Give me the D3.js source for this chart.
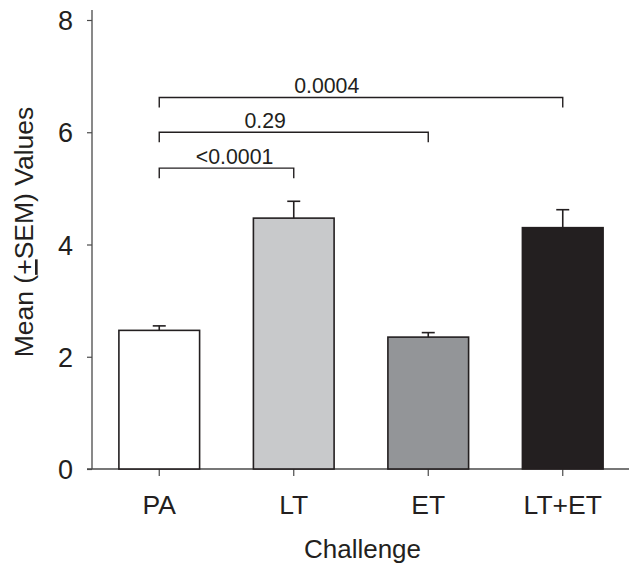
<!DOCTYPE html>
<html>
<head>
<meta charset="utf-8">
<script src="https://cdn.jsdelivr.net/npm/d3@7"></script>
<style>
  html, body { margin: 0; padding: 0; background: #fff; }
  svg { display: block; font-family: "Liberation Sans", Arial, Helvetica, sans-serif; }
</style>
</head>
<body>
<svg id="chart" width="629" height="565"></svg>
<script>
// Challenge groups, their means and the upper SEM bound
const categories = ["PA", "LT", "ET", "LT+ET"];
const means = [2.47, 4.47, 2.35, 4.30];
const sem = [0.08, 0.30, 0.08, 0.32];
const fills = ["#ffffff", "#c8c9cb", "#939598", "#231f20"];
const yTicks = [0, 2, 4, 6, 8];

// Pairwise comparisons against PA: [from, to, bracket level, p-value label]
const compFrom = ["PA", "PA", "PA"];
const compTo = ["LT", "ET", "LT+ET"];
const compLevel = [5.36, 6.0, 6.62];
const compLabel = ["<0.0001", "0.29", "0.0004"];

const svg = d3.select("#chart");
const ink = "#231f20";
const axisInk = "#4a4a4a";

const x = d3.scaleBand().domain(categories).range([92, 630]).paddingInner(0.4).paddingOuter(0.2);
const y = d3.scaleLinear().domain([0, 8]).range([469, 20]);

// Y axis
const yAxis = svg.append("g").attr("transform", "translate(92,0)")
  .call(d3.axisLeft(y).tickValues(yTicks).tickSize(5).tickPadding(14).tickFormat(d3.format("d")));
yAxis.select(".domain").remove();
yAxis.selectAll(".tick line").attr("stroke", axisInk).attr("stroke-width", 1.2);
yAxis.selectAll(".tick text").attr("fill", ink).style("font-size", "27px").attr("dy", "0.36em");
svg.append("line").attr("x1", 92).attr("x2", 92).attr("y1", y(0)).attr("y2", 10)
  .attr("stroke", axisInk).attr("stroke-width", 1.3);

// X axis
const xAxis = svg.append("g").attr("transform", `translate(0,${y(0)})`)
  .call(d3.axisBottom(x).tickSize(7).tickPadding(19));
xAxis.select(".domain").remove();
xAxis.selectAll(".tick line").attr("stroke", axisInk).attr("stroke-width", 1.2);
xAxis.selectAll(".tick text").attr("fill", ink).style("font-size", "26.5px");
svg.append("line").attr("x1", 87).attr("x2", 629).attr("y1", y(0)).attr("y2", y(0))
  .attr("stroke", axisInk).attr("stroke-width", 1.3);

// Bars
svg.append("g").selectAll("rect").data(categories).join("rect")
  .attr("x", d => x(d))
  .attr("y", (d, i) => y(means[i]))
  .attr("width", x.bandwidth())
  .attr("height", (d, i) => y(0) - y(means[i]))
  .attr("fill", (d, i) => fills[i])
  .attr("stroke", ink)
  .attr("stroke-width", 1.6);

// Upper error bars
const eb = svg.append("g").attr("stroke", ink).attr("stroke-width", 1.6);
categories.forEach((c, i) => {
  const cx = x(c) + x.bandwidth() / 2;
  eb.append("line").attr("x1", cx).attr("x2", cx).attr("y1", y(means[i])).attr("y2", y(means[i] + sem[i]));
  eb.append("line").attr("x1", cx - 6.5).attr("x2", cx + 6.5).attr("y1", y(means[i] + sem[i])).attr("y2", y(means[i] + sem[i]));
});

// Comparison brackets with p-values
const labelFrac = [0.56, 0.394, 0.415];
const br = svg.append("g");
compTo.forEach((to, i) => {
  const x1 = x(compFrom[i]) + x.bandwidth() / 2;
  const x2 = x(to) + x.bandwidth() / 2;
  const yy = y(compLevel[i]);
  br.append("path")
    .attr("d", `M${x1},${yy + 10}V${yy}H${x2}V${yy + 10}`)
    .attr("fill", "none").attr("stroke", ink).attr("stroke-width", 1.4);
  br.append("text")
    .attr("x", x1 + (x2 - x1) * labelFrac[i])
    .attr("y", yy - 4)
    .attr("text-anchor", "middle")
    .attr("fill", ink)
    .style("font-size", "21.3px")
    .text(compLabel[i]);
});

// Axis titles
svg.append("text").attr("x", (92 + 629) / 2 + 2).attr("y", 558)
  .attr("text-anchor", "middle").attr("fill", ink).style("font-size", "26px").text("Challenge");

const yt = svg.append("text")
  .attr("transform", "translate(33,232) rotate(-90)")
  .attr("text-anchor", "middle").attr("fill", ink).style("font-size", "26.5px");
yt.append("tspan").text("Mean (");
yt.append("tspan").style("text-decoration", "underline").text("+");
yt.append("tspan").text("SEM) Values");
</script>
</body>
</html>
